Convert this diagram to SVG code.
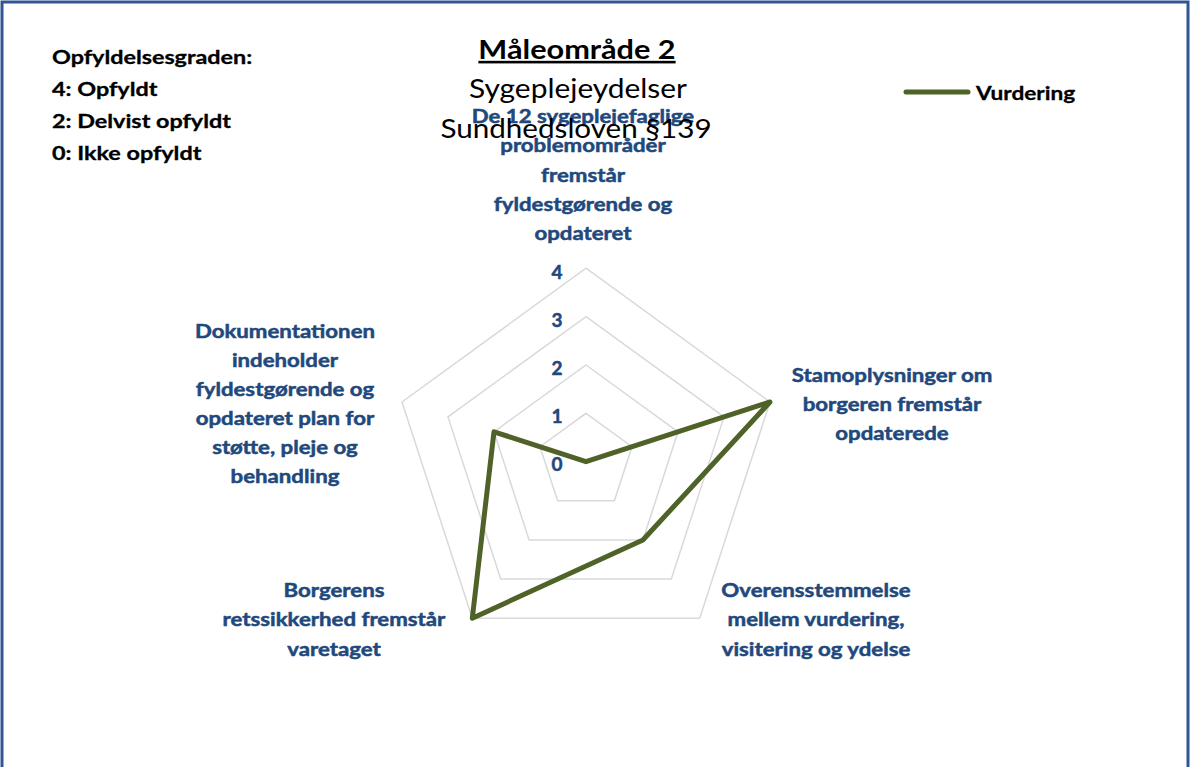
<svg xmlns="http://www.w3.org/2000/svg" width="1192" height="767" viewBox="0 0 1192 767">
<style>
.frame{fill:#ffffff;stroke:#2F5592;stroke-width:3}
.grid{fill:none;stroke:#D9D9D9;stroke-width:1.5}
.data{fill:none;stroke:#4F6228;stroke-width:5;stroke-linejoin:round;stroke-linecap:round}
.lbl{font-family:Lato,"Liberation Sans",sans-serif;font-weight:bold;font-size:19px;fill:#1F497D;stroke:#1F497D;stroke-width:0.5;text-anchor:middle}
.tick{font-family:Lato,"Liberation Sans",sans-serif;font-weight:bold;font-size:19px;fill:#1F497D;stroke:#1F497D;stroke-width:0.5;text-anchor:middle}
.leg{font-family:Lato,"Liberation Sans",sans-serif;font-weight:bold;font-size:19px;fill:#000000;stroke:#000000;stroke-width:0.3}
.title{font-family:Lato,"Liberation Sans",sans-serif;font-size:26px;fill:#000000;text-anchor:middle}
</style>
<rect class="frame" x="2" y="2" width="1186" height="790"/>
<g id="grid">
<polygon class="grid" points="586,413.3 632,446.7 614.4,500.8 557.6,500.8 540,446.7"/>
<polygon class="grid" points="586,365 678,431.8 642.9,540 529.1,540 494,431.8"/>
<polygon class="grid" points="586,316.6 724,416.9 671.3,579.1 500.7,579.1 448,416.9"/>
<polygon class="grid" points="586,268.2 770,402 699.7,618.2 472.3,618.2 402,402"/>
</g>
<g id="ticks">
<text class="tick" x="557" y="279">4</text>
<text class="tick" x="557" y="327">3</text>
<text class="tick" x="557" y="375">2</text>
<text class="tick" x="557" y="423">1</text>
<text class="tick" x="557" y="471">0</text>
</g>
<g id="connectors">
<polygon class="data" points="586,461.7 770,402 642.9,540 472.3,618.2 494,431.8"/>
</g>
<g id="axis-top" transform="translate(583,0) scale(1.17,1) translate(-583,0)">
<text class="lbl"><tspan x="583" y="123">De 12 sygeplejefaglige</tspan><tspan x="583" y="152">problemområder</tspan><tspan x="583" y="182">fremstår</tspan><tspan x="583" y="211">fyldestgørende og</tspan><tspan x="583" y="240">opdateret</tspan></text>
</g>
<g id="axis-right" transform="translate(892,0) scale(1.17,1) translate(-892,0)">
<text class="lbl"><tspan x="892" y="382">Stamoplysninger om</tspan><tspan x="892" y="411">borgeren fremstår</tspan><tspan x="892" y="440">opdaterede</tspan></text>
</g>
<g id="axis-lower-right" transform="translate(816,0) scale(1.17,1) translate(-816,0)">
<text class="lbl"><tspan x="816" y="597">Overensstemmelse</tspan><tspan x="816" y="626">mellem vurdering,</tspan><tspan x="816" y="656">visitering og ydelse</tspan></text>
</g>
<g id="axis-lower-left" transform="translate(334,0) scale(1.17,1) translate(-334,0)">
<text class="lbl"><tspan x="334" y="597">Borgerens</tspan><tspan x="334" y="626">retssikkerhed fremstår</tspan><tspan x="334" y="656">varetaget</tspan></text>
</g>
<g id="axis-left" transform="translate(285,0) scale(1.17,1) translate(-285,0)">
<text class="lbl"><tspan x="285" y="338">Dokumentationen</tspan><tspan x="285" y="367">indeholder</tspan><tspan x="285" y="396">fyldestgørende og</tspan><tspan x="285" y="425">opdateret plan for</tspan><tspan x="285" y="454">støtte, pleje og</tspan><tspan x="285" y="483">behandling</tspan></text>
</g>
<g id="title">
<text class="title" x="577" y="59" font-weight="bold" text-decoration="underline" transform="translate(577,0) scale(1.18,1) translate(-577,0)">Måleområde 2</text>
<text class="title" x="578" y="98" transform="translate(578,0) scale(1.15,1) translate(-578,0)">Sygeplejeydelser</text>
<text class="title" x="576" y="138" transform="translate(576,0) scale(1.14,1) translate(-576,0)">Sundhedsloven §139</text>
</g>
<g id="grade-legend" transform="translate(52,0) scale(1.23,1) translate(-52,0)">
<text class="leg" x="52" y="64">Opfyldelsesgraden:</text>
<text class="leg" x="52" y="96">4: Opfyldt</text>
<text class="leg" x="52" y="128">2: Delvist opfyldt</text>
<text class="leg" x="52" y="160">0: Ikke opfyldt</text>
</g>
<g id="series-legend">
<line x1="906" y1="92" x2="968" y2="92" stroke="#4F6228" stroke-width="5" stroke-linecap="round"/>
<text class="leg" x="976" y="100" transform="translate(976,0) scale(1.19,1) translate(-976,0)">Vurdering</text>
</g>
</svg>
